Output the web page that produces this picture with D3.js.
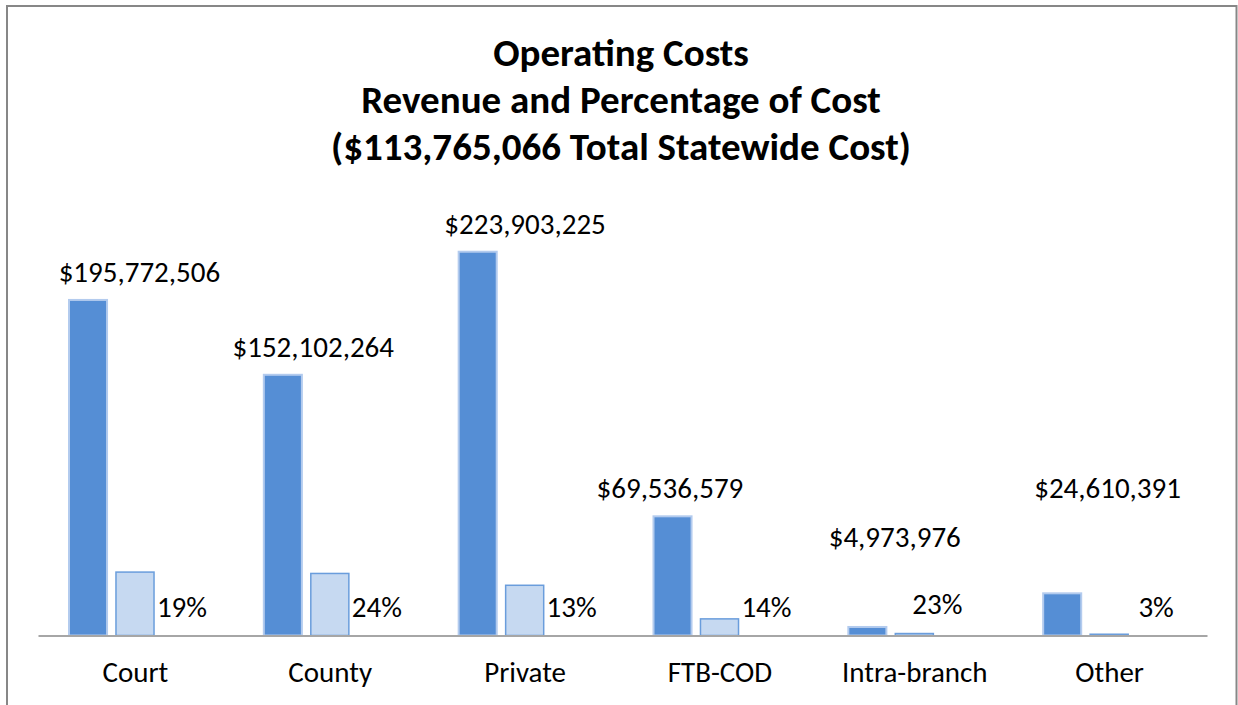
<!DOCTYPE html>
<html>
<head>
<meta charset="utf-8">
<script src="https://cdn.jsdelivr.net/npm/d3@7"></script>
<style>
  body { margin: 0; background: #fff; }
  text { font-family: Carlito, Lato, "Open Sans", sans-serif; fill: #000; }
</style>
</head>
<body>
<div id="chart"></div>
<script>
// data
const categories = ["Court", "County", "Private", "FTB-COD", "Intra-branch", "Other"];
const revenue = [195772506, 152102264, 223903225, 69536579, 4973976, 24610391];
const cost = [37000000, 36200000, 29300000, 9700000, 1150000, 740000];
const pctLabels = ["19%", "24%", "13%", "14%", "23%", "3%"];
const titleLines = ["Operating Costs", "Revenue and Percentage of Cost", "($113,765,066 Total Statewide Cost)"];

const W = 1238, H = 705;
const base = 635.5;

const svg = d3.select("#chart").append("svg")
    .attr("width", W)
    .attr("height", H);

// chart frame
svg.append("path")
   .attr("d", `M7,${H} V6 H1236.5 V${H}`)
   .attr("fill", "none")
   .attr("stroke", "#878787")
   .attr("stroke-width", 2);

var x0 = d3.scaleBand()
           .domain(categories)
           .range([38, 1207]);

// third slot is the (empty) percentage series
var x1 = d3.scaleBand()
           .domain(["rev", "cost", "pct"])
           .range([31, 163])
           .paddingInner(0.19);

var y = d3.scaleLinear()
          .domain([0, 250e6])
          .range([base, base - 250 * 1.714]);

var g = svg.append("g");

// revenue bars
g.selectAll(".rev")
 .data(categories)
 .enter().append("rect")
 .attr("class", "rev")
 .attr("x", d => x0(d) + x1("rev"))
 .attr("y", (d, i) => y(revenue[i]))
 .attr("width", x1.bandwidth())
 .attr("height", (d, i) => base - y(revenue[i]))
 .attr("fill", "#558ed5")
 .attr("stroke", "#b3cbee")
 .attr("stroke-width", 2);

// cost bars
g.selectAll(".cost")
 .data(categories)
 .enter().append("rect")
 .attr("class", "cost")
 .attr("x", d => x0(d) + x1("cost"))
 .attr("y", (d, i) => y(cost[i]))
 .attr("width", x1.bandwidth())
 .attr("height", (d, i) => base - y(cost[i]))
 .attr("fill", "#c6d9f1")
 .attr("stroke", "#6a9ddc")
 .attr("stroke-width", 1.5);

// axis
g.append("g")
 .attr("transform", `translate(0,${base})`)
 .call(d3.axisBottom(x0).tickSize(0))
 .call(a => a.select(".domain").attr("stroke", "#a6a6a6").attr("stroke-width", 2))
 .selectAll("text")
 .attr("font-size", 29)
 .attr("y", 46)
 .attr("dy", 0)
 .style("font-family", "Carlito, Lato, sans-serif");

// label nudges (manual placement in the original)
const revNudge = [[4, 0], [-17, 0], [0, 0], [-50, 0], [-20, -62], [-2, -77]];
const pctNudge = [[0, 0], [0, 0], [0, 0], [0, 0], [-24, -3], [0, 0]];

const fmt = d3.format("$,");

g.selectAll(".revlab")
 .data(categories)
 .enter().append("text")
 .attr("class", "revlab")
 .attr("x", (d, i) => x0(d) + x0.bandwidth() / 2 + revNudge[i][0])
 .attr("y", (d, i) => y(revenue[i]) - 18 + revNudge[i][1])
 .attr("text-anchor", "middle")
 .attr("font-size", 29)
 .text((d, i) => fmt(revenue[i]));

g.selectAll(".pctlab")
 .data(categories)
 .enter().append("text")
 .attr("class", "pctlab")
 .attr("x", (d, i) => x0(d) + x1("pct") + x1.bandwidth() / 2 + pctNudge[i][0])
 .attr("y", base - 19)
 .attr("dy", (d, i) => pctNudge[i][1])
 .attr("text-anchor", "middle")
 .attr("font-size", 29)
 .text((d, i) => pctLabels[i]);

// title
svg.append("text")
   .attr("x", 621)
   .attr("y", 66)
   .attr("text-anchor", "middle")
   .attr("font-size", 39)
   .attr("font-weight", "bold")
   .selectAll("tspan")
   .data(titleLines)
   .enter().append("tspan")
   .attr("x", 621)
   .attr("dy", (d, i) => i ? 47 : 0)
   .text(d => d);
</script>
</body>
</html>
